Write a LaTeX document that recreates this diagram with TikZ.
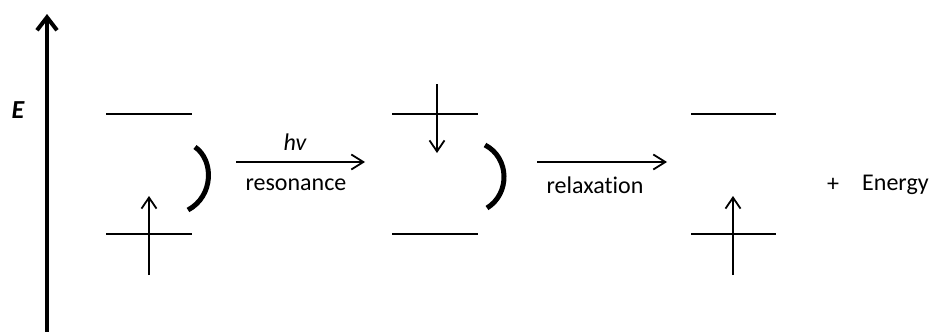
\documentclass[tikz,border=0pt]{standalone}
\usepackage{fontspec}
\setmainfont{Carlito}[Ligatures=NoCommon]
\usetikzlibrary{arrows.meta}
\definecolor{ink}{HTML}{000000}

\begin{document}
\begin{tikzpicture}[x=1pt,y=-1pt,font=\fontsize{24}{28}\selectfont,
  level/.style={line width=2.4pt,ink},
  spin/.style={-{Straight Barb[length=11pt,width=15pt]},line width=1.8pt,ink},
  trans/.style={-{Straight Barb[length=12pt,width=15pt]},line width=1.8pt,ink},
  swap/.style={line width=5pt,ink},
  lbl/.style={inner sep=0pt,text=ink}]
  \useasboundingbox (0,0) rectangle (932,332);

  % ===== energy axis =====
  \coordinate (ebot) at (47,332);
  \coordinate (etop) at (47,14);
  \draw[-{Straight Barb[length=13pt,width=20pt]},line width=4pt,ink] (ebot) -- (etop);
  \node[lbl,font=\fontsize{26}{30}\selectfont\bfseries\itshape] (elbl) at (18,110) {E};

  % ===== ground state (x = 149) =====
  \coordinate (g1up) at (106,114); \coordinate (g1upr) at (192,114);
  \coordinate (g1lo) at (106,234); \coordinate (g1lor) at (192,234);
  \draw[level] (g1up) -- (g1upr);
  \draw[level] (g1lo) -- (g1lor);
  \coordinate (s1a) at (149,275); \coordinate (s1b) at (149,196);
  \draw[spin] (s1a) -- (s1b);
  \draw[swap] (195,147) .. controls (214,160) and (214,196) .. (188,210);

  % resonance step
  \coordinate (r1a) at (236,162); \coordinate (r1b) at (365,162);
  \draw[trans] (r1a) -- (r1b);
  \node[lbl,font=\fontsize{24}{28}\selectfont\itshape] (hv) at (295,142) {hv};
  \node[lbl] (reso) at (296,185) {resonance};

  % ===== excited state (x = 437) =====
  \coordinate (g2up) at (392,114); \coordinate (g2upr) at (478,114);
  \coordinate (g2lo) at (392,234); \coordinate (g2lor) at (478,234);
  \draw[level] (g2up) -- (g2upr);
  \draw[level] (g2lo) -- (g2lor);
  \coordinate (s2a) at (437,84); \coordinate (s2b) at (437,153);
  \draw[spin] (s2a) -- (s2b);
  \draw[swap] (485,145) .. controls (510,158) and (510,194) .. (487,208);

  % relaxation step
  \coordinate (r2a) at (537,162); \coordinate (r2b) at (667,162);
  \draw[trans] (r2a) -- (r2b);
  \node[lbl] (relax) at (595,185) {relaxation};

  % ===== relaxed state (x = 733) =====
  \coordinate (g3up) at (691,114); \coordinate (g3upr) at (776,114);
  \coordinate (g3lo) at (691,234); \coordinate (g3lor) at (776,234);
  \draw[level] (g3up) -- (g3upr);
  \draw[level] (g3lo) -- (g3lor);
  \coordinate (s3a) at (733,275); \coordinate (s3b) at (733,196);
  \draw[spin] (s3a) -- (s3b);
  \node[lbl] (plus) at (833,185) {+};
  \node[lbl,anchor=west] (energy) at (862,185) {Energy};
\end{tikzpicture}
\end{document}
